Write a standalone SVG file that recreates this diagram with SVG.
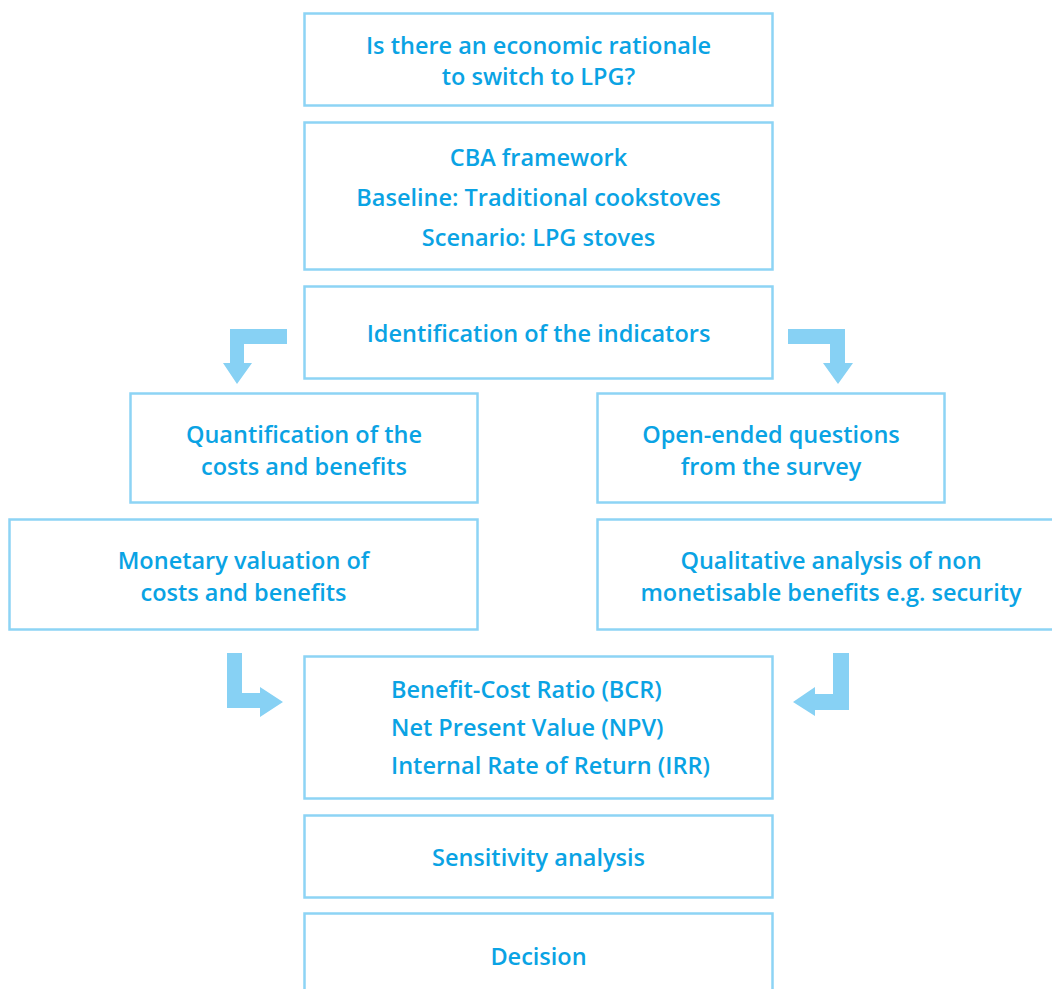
<svg xmlns="http://www.w3.org/2000/svg" width="1052" height="989" viewBox="0 0 1052 989">
<style>
.box{fill:#fff;stroke:#8dd4f5;stroke-width:2.5}
.t{font-family:"Open Sans","Noto Sans",sans-serif;font-weight:600;font-size:23.5px;fill:#0aa3e4;text-anchor:middle}
.l{text-anchor:start}
.arr{fill:#87d1f4}
</style>
<rect width="1052" height="989" fill="#fff"/>
<g id="n1"><rect class="box" x="304.5" y="13.5" width="468" height="92"/>
<text class="t" x="538.5" y="54">Is there an economic rationale</text>
<text class="t" x="538.5" y="85">to switch to LPG?</text></g>
<g id="n2"><rect class="box" x="304.5" y="122.5" width="468" height="147"/>
<text class="t" x="538.5" y="166">CBA framework</text>
<text class="t" x="538.5" y="206">Baseline: Traditional cookstoves</text>
<text class="t" x="538.5" y="246">Scenario: LPG stoves</text></g>
<g id="n3"><rect class="box" x="304.5" y="286.5" width="468" height="92"/>
<text class="t" x="538.5" y="342">Identification of the indicators</text></g>
<g id="n4"><rect class="box" x="130.5" y="393.5" width="347" height="109"/>
<text class="t" x="304" y="443">Quantification of the</text>
<text class="t" x="304" y="475">costs and benefits</text></g>
<g id="n5"><rect class="box" x="597.5" y="393.5" width="347" height="109"/>
<text class="t" x="771" y="443">Open-ended questions</text>
<text class="t" x="771" y="475">from the survey</text></g>
<g id="n6"><rect class="box" x="9.5" y="519.5" width="468" height="110"/>
<text class="t" x="243.5" y="569">Monetary valuation of</text>
<text class="t" x="243.5" y="601">costs and benefits</text></g>
<g id="n7"><rect class="box" x="597.5" y="519.5" width="468" height="110"/>
<text class="t" x="831" y="569">Qualitative analysis of non</text>
<text class="t" x="831" y="601">monetisable benefits e.g. security</text></g>
<g id="n8"><rect class="box" x="304.5" y="656.5" width="468" height="142"/>
<text class="t l" x="391" y="698">Benefit-Cost Ratio (BCR)</text>
<text class="t l" x="391" y="736">Net Present Value (NPV)</text>
<text class="t l" x="391" y="774">Internal Rate of Return (IRR)</text></g>
<g id="n9"><rect class="box" x="304.5" y="815.5" width="468" height="82"/>
<text class="t" x="538.5" y="866">Sensitivity analysis</text></g>
<g id="n10"><rect class="box" x="304.5" y="913.5" width="468" height="90"/>
<text class="t" x="538.5" y="965">Decision</text></g>
<g id="connectors">
<polygon class="arr" points="287,329 230,329 230,363 223,363 237,384 252,363 244,363 244,344 287,344"/>
<polygon class="arr" points="788,329 845,329 845,363 853,363 838,384 823,363 830,363 830,344 788,344"/>
<polygon class="arr" points="227,653 242,653 242,693 260,693 260,687 283,702 260,717 260,708 227,708"/>
<polygon class="arr" points="849,653 833,653 833,694 815,694 815,687 793,702 815,716 815,710 849,710"/>
</g>
</svg>
